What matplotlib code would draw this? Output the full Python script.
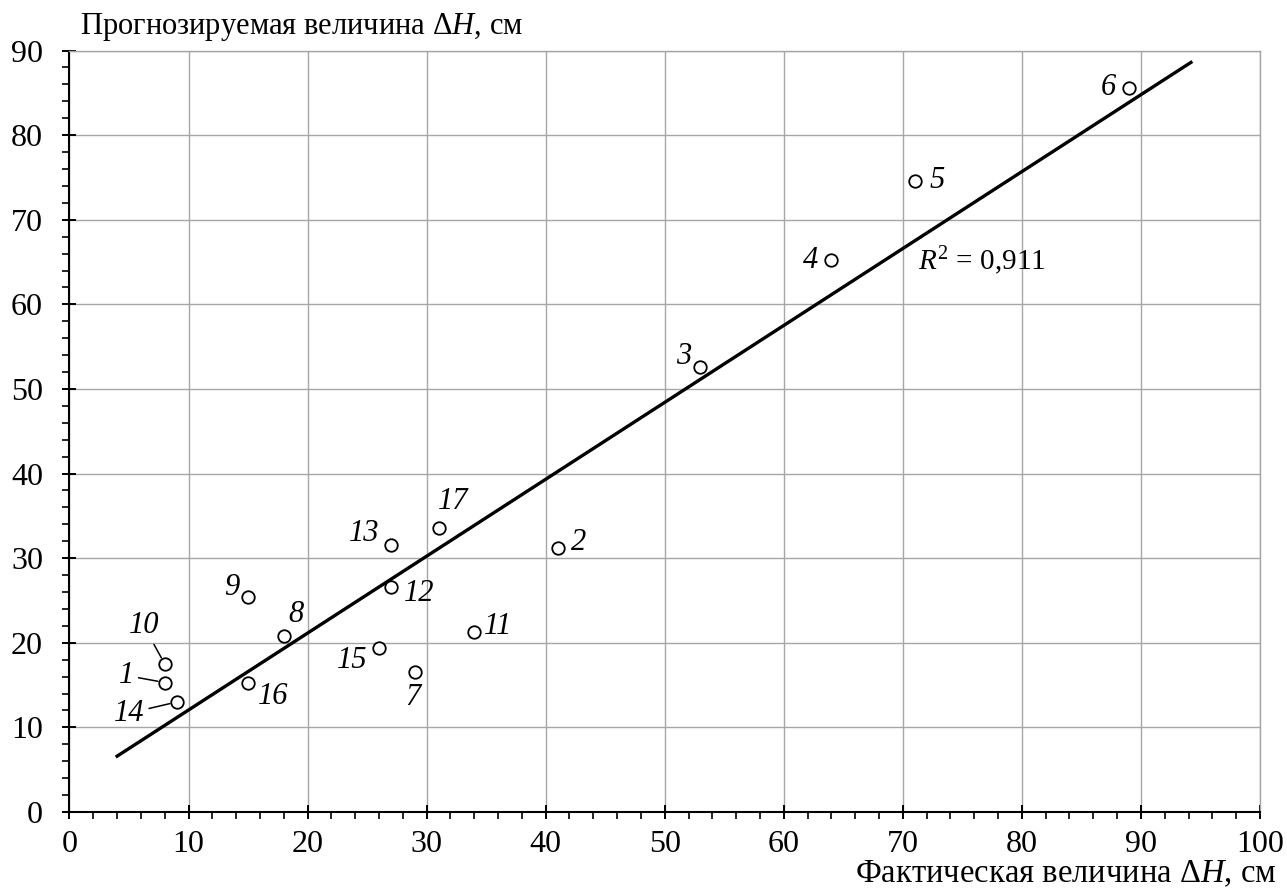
import numpy as np
import matplotlib
matplotlib.use("Agg")
import matplotlib.pyplot as plt
from matplotlib.ticker import MultipleLocator

plt.rcParams['font.family'] = ['Liberation Serif', 'DejaVu Serif']
plt.rcParams['mathtext.fontset'] = 'custom'
plt.rcParams['mathtext.rm'] = 'Liberation Serif'
plt.rcParams['mathtext.it'] = 'Liberation Serif:italic'

# point numbers, actual and predicted dH (cm)
point_ids = ['1', '2', '3', '4', '5', '6', '7', '8', '9', '10',
             '11', '12', '13', '14', '15', '16', '17']
actual = [8, 41, 53, 64, 71, 89, 29, 18, 15, 8,
          34, 27, 27, 9, 26, 15, 31]
predicted = [15.3, 31.2, 52.6, 65.2, 74.6, 85.6, 16.5, 20.8, 25.4, 17.5,
             21.3, 26.6, 31.6, 13.0, 19.4, 15.2, 33.6]

# trend line ends
trend_x = [4, 94.2]
trend_y = [6.6, 88.6]
r2_text = r'$R^{2}$ = 0,911'

xlabel = 'Фактическая величина Δ$H$, см'
ylabel = 'Прогнозируемая величина Δ$H$, см'

# label offsets in pixels, and which labels get a leader line
label_offsets = {
    '1': (-38, 7), '2': (21, 6), '3': (-17, 10), '4': (-21, 0),
    '5': (22, 0), '6': (-21, 0), '7': (-2, -25), '8': (12, 22),
    '9': (-16, 10), '10': (-21, 38), '11': (24, 5), '12': (28, -7),
    '13': (-27, 11), '14': (-47, -11), '15': (-27, -13), '16': (25, -13),
    '17': (15, 26),
}
leaders = {'1', '10', '14'}

fig = plt.figure(figsize=(12.87, 8.93), dpi=100)
ax = fig.add_axes([0.054, 0.0907, 0.925, 0.8527])

ax.set_xlim(0, 100)
ax.set_ylim(0, 90)
ax.xaxis.set_major_locator(MultipleLocator(10))
ax.xaxis.set_minor_locator(MultipleLocator(2))
ax.yaxis.set_major_locator(MultipleLocator(10))
ax.yaxis.set_minor_locator(MultipleLocator(2))
ax.grid(True, which='major', color='#a6a6a6', linewidth=1.0)
ax.set_axisbelow(True)

ax.tick_params(which='major', direction='inout', length=10, width=1.4,
               labelsize=23, pad=8, color='black')
ax.tick_params(which='minor', direction='out', length=5, width=1.2,
               color='black')
ax.tick_params(axis='y', which='major', pad=14)

for side in ['top', 'right']:
    ax.spines[side].set_color('#a6a6a6')
    ax.spines[side].set_linewidth(1.0)
for side in ['left', 'bottom']:
    ax.spines[side].set_linewidth(1.5)

ax.plot(trend_x, trend_y, color='black', linewidth=2.4, zorder=3)
ax.plot(actual, predicted, linestyle='none', marker='o', markersize=9,
        markerfacecolor='white', markeredgecolor='black',
        markeredgewidth=1.3, zorder=4)

for pid, xv, yv in zip(point_ids, actual, predicted):
    dx, dy = label_offsets[pid]
    arrow = None
    if pid in leaders:
        arrow = dict(arrowstyle='-', color='black', lw=1.1,
                     shrinkA=1, shrinkB=5)
    ax.annotate(pid, (xv, yv), xytext=(dx, dy), textcoords='offset pixels',
                ha='center', va='center', fontsize=22, style='italic',
                arrowprops=arrow, zorder=5)

ax.text(71.3, 65.2, r2_text, fontsize=21, ha='left', va='center', zorder=5)

fig.text(80 / 1287, 1 - 34 / 893, ylabel, fontsize=22,
         ha='left', va='baseline')
fig.text(1277 / 1287, 1 - 882 / 893, xlabel, fontsize=23.5,
         ha='right', va='baseline')

fig.savefig('out.png', dpi=100)
